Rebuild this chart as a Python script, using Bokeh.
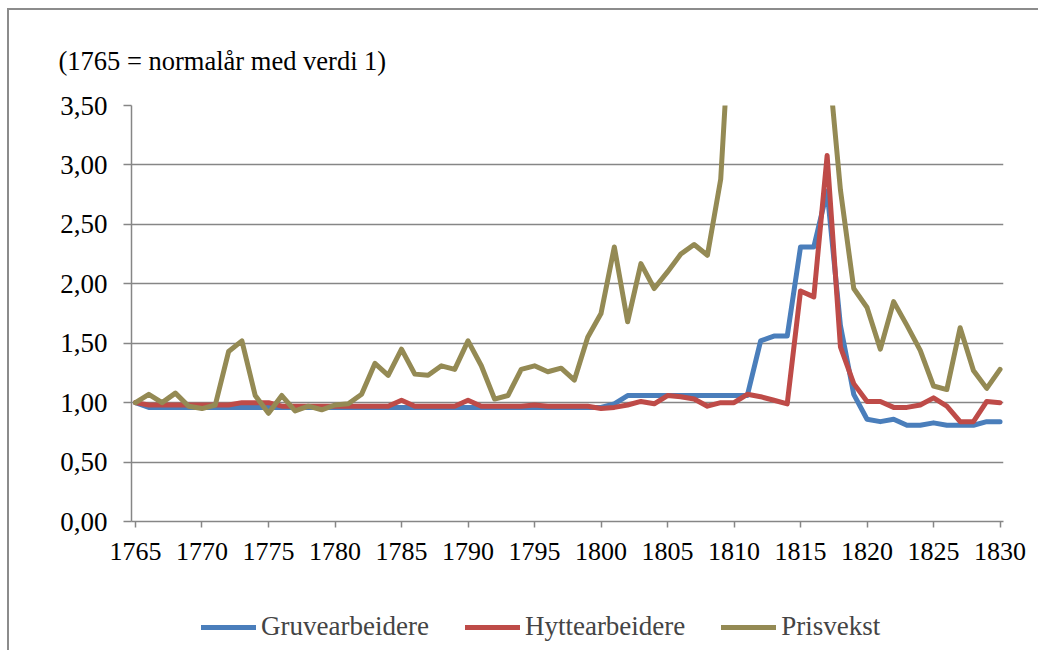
from bokeh.plotting import figure
from bokeh.layouts import column
from bokeh.models import (Range1d, FixedTicker, CustomJSTickFormatter, Legend,
                          LegendItem, Title)
from bokeh.embed import file_html
from bokeh.resources import INLINE

years = list(range(1765, 1831))

gruvearbeidere = [1.00] + [0.96] * 35 + [0.99] + [1.06] * 10 + [
    1.52, 1.56, 1.56, 2.31, 2.31, 2.78, 1.65, 1.07,
    0.86, 0.84, 0.86, 0.81, 0.81, 0.83, 0.81, 0.81, 0.81, 0.84, 0.84]

hyttearbeidere = [
    1.00, 0.98, 0.98, 0.98, 0.98, 0.98, 0.98, 0.98, 1.00, 1.00,   # 1765-1774
    1.00, 0.97, 0.97, 0.97, 0.97, 0.97, 0.97, 0.97, 0.97, 0.97,   # 1775-1784
    1.02, 0.97, 0.97, 0.97, 0.97, 1.02, 0.97, 0.97, 0.97, 0.97,   # 1785-1794
    0.98, 0.97, 0.97, 0.97, 0.97, 0.95, 0.96, 0.98, 1.01, 0.99,   # 1795-1804
    1.06, 1.05, 1.03, 0.97, 1.00, 1.00, 1.07, 1.05, 1.02, 0.99,   # 1805-1814
    1.94, 1.89, 3.08, 1.47, 1.16, 1.01, 1.01, 0.96, 0.96, 0.98,   # 1815-1824
    1.04, 0.97, 0.84, 0.84, 1.01, 1.00]                           # 1825-1830

prisvekst = [
    1.00, 1.07, 1.00, 1.08, 0.97, 0.95, 0.98, 1.43, 1.52, 1.06,   # 1765-1774
    0.91, 1.06, 0.93, 0.97, 0.94, 0.98, 0.99, 1.07, 1.33, 1.23,   # 1775-1784
    1.45, 1.24, 1.23, 1.31, 1.28, 1.52, 1.31, 1.03, 1.06, 1.28,   # 1785-1794
    1.31, 1.26, 1.29, 1.19, 1.55, 1.75, 2.31, 1.68, 2.17, 1.96,   # 1795-1804
    2.10, 2.25, 2.33, 2.24, 2.88, 4.80, 4.90, 4.80, 5.00, 5.50,   # 1805-1814
    6.00, 6.20, 4.00, 2.79, 1.96, 1.80, 1.45, 1.85, 1.65, 1.44,   # 1815-1824
    1.14, 1.11, 1.63, 1.27, 1.12, 1.28]                           # 1825-1830

series_names = ["Gruvearbeidere", "Hyttearbeidere", "Prisvekst"]
series_colors = ["#4A7EBB", "#BE4B48", "#948A54"]
x_ticks = list(range(1765, 1831, 5))
y_ticks = [0, 0.5, 1.0, 1.5, 2.0, 2.5, 3.0, 3.5]
subtitle = "(1765 = normalår med verdi 1)"

FONT = "Liberation Serif"
GRAY = "#868686"
LW = 5

# ---------- main chart ----------
p = figure(width=1029, height=575, output_backend="svg", toolbar_location=None,
           x_range=Range1d(1764.7, 1830.26), y_range=Range1d(0, 3.5),
           min_border_left=122, min_border_right=35, min_border_top=95,
           min_border_bottom=64)
p.outline_line_color = None
p.background_fill_color = "white"
p.border_fill_color = "white"

for vals, col in zip([gruvearbeidere, hyttearbeidere, prisvekst], series_colors):
    p.line(years, vals, line_color=col, line_width=LW,
           line_join="round", line_cap="round")

p.xaxis.ticker = FixedTicker(ticks=x_ticks, minor_ticks=[])
p.yaxis.ticker = FixedTicker(ticks=y_ticks, minor_ticks=[])
p.yaxis.formatter = CustomJSTickFormatter(code="return tick.toFixed(2).replace('.', ',');")
for ax in (p.xaxis, p.yaxis):
    ax.axis_line_color = GRAY
    ax.axis_line_width = 1.5
    ax.major_tick_line_color = GRAY
    ax.major_tick_line_width = 1.5
    ax.minor_tick_line_color = None
    ax.major_tick_in = 0
    ax.major_label_text_font = FONT
    ax.major_label_text_color = "black"
p.xaxis.major_label_text_font_size = "26px"
p.yaxis.major_label_text_font_size = "27px"
p.xaxis.major_tick_out = 6
p.xaxis.major_label_standoff = 15
p.yaxis.major_tick_out = 8
p.yaxis.major_label_standoff = 16

p.xgrid.grid_line_color = None
p.ygrid.ticker = FixedTicker(ticks=y_ticks)
p.ygrid.grid_line_color = GRAY
p.ygrid.grid_line_width = 1.5

p.add_layout(Title(text=subtitle, align="left", offset=-73, standoff=59,
                   text_font=FONT, text_font_size="26.5px", text_font_style="normal",
                   text_color="black"), "above")

# ---------- legend strip (its frame is aligned with the chart's frame) ----------
pl = figure(width=1029, height=65, output_backend="svg", toolbar_location=None,
            x_range=Range1d(0, 1), y_range=Range1d(0, 1),
            x_axis_location=None, y_axis_location=None,
            min_border_left=0, min_border_top=0, min_border_right=0,
            min_border_bottom=0)
pl.outline_line_color = None
pl.xgrid.visible = False
pl.ygrid.visible = False
pl.background_fill_color = "white"
pl.border_fill_color = "white"

items = []
for name, col in zip(series_names, series_colors):
    # legend keys only: the points lie outside the visible range
    r = pl.line([-5, -4], [-5, -4], line_color=col, line_width=LW, line_cap="round")
    items.append(LegendItem(label=name, renderers=[r]))

legend = Legend(items=items, orientation="horizontal", location=(70, 8),
                margin=0, padding=4,
                label_text_font=FONT, label_text_font_size="27px",
                glyph_width=55, glyph_height=20, label_standoff=5, spacing=36,
                border_line_color=None, background_fill_alpha=0)
pl.add_layout(legend, "center")

layout = column(p, pl, spacing=0)
layout.styles = {"margin-left": "7px", "margin-top": "8px",
                 "border-left": "2px solid #8c8c8c", "border-top": "2px solid #8c8c8c"}

open("out.html", "w").write(file_html(layout, INLINE))
